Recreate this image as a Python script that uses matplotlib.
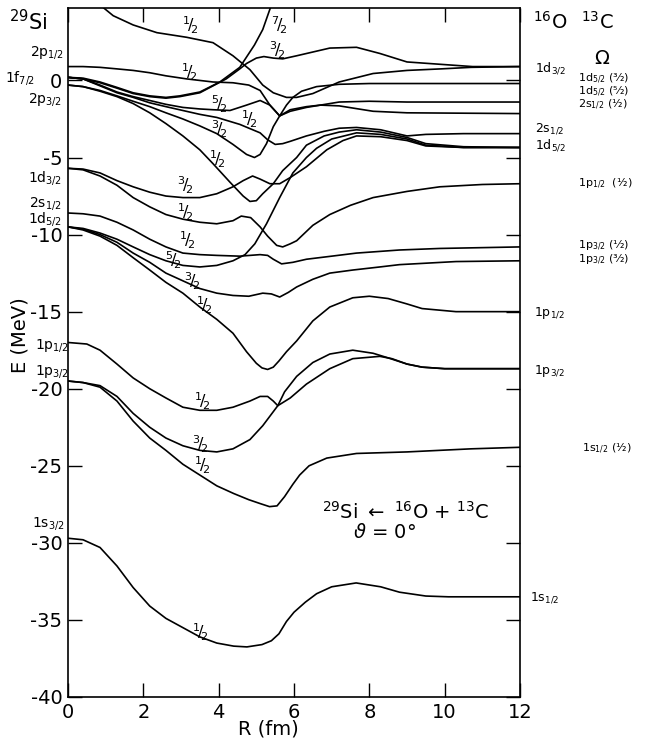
import matplotlib
matplotlib.use("Agg")
import matplotlib.pyplot as plt

plt.rcParams['font.family'] = ['DejaVu Sans']
plt.rcParams['mathtext.fontset'] = 'dejavusans'

# ---------------- data (R in fm, E in MeV) ----------------
# 1s -> 16O 1s1/2
r_1s = [0, 0.4, 0.85, 1.3, 1.73, 2.17, 2.6, 3.05, 3.5, 3.95, 4.4, 4.75, 5.15, 5.4, 5.6, 5.8, 6.0, 6.3, 6.6, 7.0, 7.65, 8.3, 8.8, 9.5, 10.1, 11, 12]
e_1s = [-29.7, -29.8, -30.3, -31.5, -32.9, -34.1, -34.9, -35.5, -36.1, -36.5, -36.7, -36.75, -36.6, -36.35, -35.9, -35.1, -34.5, -33.85, -33.3, -32.85, -32.6, -32.85, -33.2, -33.45, -33.5, -33.5, -33.5]

# 1p3/2 (1/2) -> 13C 1s1/2
r_p32a = [0, 0.4, 0.85, 1.3, 1.73, 2.17, 2.6, 3.05, 3.5, 3.95, 4.4, 4.8, 5.1, 5.35, 5.55, 5.75, 5.97, 6.15, 6.4, 6.87, 7.66, 9.0, 10.7, 12]
e_p32a = [-19.5, -19.6, -19.9, -20.8, -22.1, -23.2, -24.0, -24.9, -25.6, -26.3, -26.8, -27.2, -27.45, -27.65, -27.6, -27.0, -26.2, -25.6, -25.0, -24.5, -24.2, -24.1, -23.9, -23.8]

# 1p3/2 (3/2) -> 16O 1p3/2
r_p32b = [0, 0.4, 0.85, 1.3, 1.73, 2.17, 2.6, 3.05, 3.5, 3.95, 4.38, 4.83, 5.17, 5.57, 5.75, 6.07, 6.5, 6.95, 7.56, 8.1, 8.5, 9.0, 9.4, 10.0, 10.7, 12]
e_p32b = [-19.5, -19.6, -19.8, -20.5, -21.6, -22.5, -23.2, -23.7, -24.0, -24.1, -23.9, -23.3, -22.4, -21.1, -20.2, -19.2, -18.3, -17.75, -17.5, -17.7, -18.0, -18.4, -18.6, -18.7, -18.7, -18.7]

# 1p1/2 (1/2) -> 16O 1p3/2
r_p12 = [0, 0.5, 0.85, 1.3, 1.73, 2.17, 2.6, 3.05, 3.5, 3.95, 4.38, 4.83, 5.1, 5.3, 5.45, 5.57, 5.9, 6.33, 6.95, 7.56, 8.28, 8.6, 9.0, 9.4, 10.0, 10.7, 12]
e_p12 = [-17.0, -17.1, -17.5, -18.4, -19.3, -20.0, -20.6, -21.2, -21.4, -21.4, -21.2, -20.8, -20.5, -20.5, -20.8, -21.1, -20.6, -19.7, -18.7, -18.05, -17.9, -18.05, -18.4, -18.6, -18.7, -18.7, -18.7]

# 1d5/2 (1/2) -> 16O 1p1/2
r_d52a = [0, 0.4, 0.85, 1.3, 1.73, 2.17, 2.6, 3.05, 3.5, 3.95, 4.38, 4.74, 5.0, 5.15, 5.3, 5.45, 5.6, 5.8, 6.07, 6.5, 6.95, 7.56, 8.0, 8.5, 9.0, 9.4, 10.3, 12]
e_d52a = [-9.5, -9.7, -10.1, -10.7, -11.5, -12.3, -13.1, -13.8, -14.7, -15.5, -16.4, -17.6, -18.35, -18.65, -18.75, -18.6, -18.2, -17.6, -16.9, -15.6, -14.7, -14.1, -14.0, -14.15, -14.5, -14.8, -15.0, -15.0]

# 1d5/2 (3/2) -> 13C 1p3/2 (3/2)
r_d52b = [0, 0.4, 0.85, 1.3, 1.73, 2.17, 2.6, 3.05, 3.5, 3.95, 4.38, 4.8, 5.17, 5.4, 5.62, 5.85, 6.07, 6.5, 6.95, 7.56, 8.28, 8.8, 10.3, 12]
e_d52b = [-9.5, -9.65, -10.0, -10.5, -11.2, -11.8, -12.5, -13.0, -13.5, -13.8, -13.95, -14.0, -13.8, -13.85, -14.05, -13.75, -13.4, -12.9, -12.5, -12.3, -12.1, -11.95, -11.75, -11.7]

# 1d5/2 (5/2) -> 16O 1d5/2
r_d52c = [0, 0.4, 0.85, 1.3, 1.73, 2.17, 2.6, 3.05, 3.5, 3.95, 4.38, 4.7, 4.96, 5.27, 5.62, 5.97, 6.33, 6.6, 7.0, 7.66, 8.3, 9.0, 9.5, 10.5, 12]
e_d52c = [-9.5, -9.6, -9.9, -10.3, -10.8, -11.3, -11.7, -12.0, -12.1, -12.0, -11.7, -11.3, -10.6, -9.3, -7.6, -6.0, -5.0, -4.4, -3.8, -3.4, -3.5, -3.8, -4.2, -4.35, -4.35]

# 2s1/2 (1/2) -> 13C 1p3/2 (1/2)
r_s12 = [0, 0.4, 0.85, 1.3, 1.73, 2.17, 2.6, 3.05, 3.5, 3.95, 4.56, 5.1, 5.3, 5.45, 5.67, 5.97, 6.33, 7.0, 7.66, 8.8, 9.87, 12]
e_s12 = [-8.6, -8.65, -8.8, -9.2, -9.7, -10.3, -10.8, -11.2, -11.3, -11.35, -11.4, -11.3, -11.35, -11.6, -11.9, -11.8, -11.6, -11.4, -11.2, -11.0, -10.9, -10.8]

# 1d3/2 (3/2) -> 16O 1d5/2
r_d32b = [0, 0.4, 0.85, 1.3, 1.73, 2.17, 2.6, 3.05, 3.5, 3.95, 4.38, 4.65, 4.9, 5.1, 5.36, 5.62, 5.9, 6.33, 6.87, 7.3, 7.66, 8.3, 9.0, 9.5, 10.5, 12]
e_d32b = [-5.7, -5.75, -6.0, -6.5, -6.9, -7.25, -7.5, -7.6, -7.6, -7.35, -6.9, -6.5, -6.2, -6.4, -6.7, -6.7, -6.3, -5.6, -4.5, -3.9, -3.6, -3.65, -3.9, -4.25, -4.35, -4.35]

# 1d3/2 (1/2) -> 13C 1p1/2
r_d32a = [0, 0.4, 0.85, 1.3, 1.73, 2.17, 2.6, 3.05, 3.5, 3.95, 4.38, 4.6, 4.85, 5.1, 5.3, 5.54, 5.7, 5.9, 6.07, 6.5, 6.95, 7.5, 8.1, 9.0, 9.87, 11, 12]
e_d32a = [-5.7, -5.8, -6.2, -6.8, -7.6, -8.2, -8.7, -9.0, -9.2, -9.3, -9.1, -8.8, -8.9, -9.5, -10.1, -10.7, -10.8, -10.6, -10.4, -9.4, -8.7, -8.1, -7.6, -7.2, -6.9, -6.75, -6.7]

# 2p3/2 (1/2), steep -> 16O 1d5/2
r_p32s = [0, 0.4, 0.85, 1.3, 1.73, 2.17, 2.6, 3.05, 3.5, 3.85, 4.3, 4.65, 4.83, 5.0, 5.17, 5.45, 5.7, 6.07, 6.33, 6.8, 7.2, 7.66, 8.3, 9.0, 9.5, 10.5, 12]
e_p32s = [-0.3, -0.4, -0.7, -1.05, -1.5, -2.1, -2.8, -3.6, -4.5, -5.4, -6.6, -7.5, -7.85, -7.8, -7.35, -6.7, -5.85, -5.0, -4.2, -3.6, -3.35, -3.2, -3.35, -3.7, -4.1, -4.3, -4.35]

# 2p3/2 (3/2) -> 13C 1d5/2 (3/2)
r_p32d = [0, 0.4, 0.85, 1.3, 1.73, 2.17, 2.6, 3.05, 3.5, 3.95, 4.38, 4.74, 4.95, 5.1, 5.27, 5.45, 5.62, 5.8, 5.97, 6.2, 6.6, 7.2, 8, 9, 12]
e_p32d = [-0.3, -0.4, -0.65, -1.0, -1.35, -1.7, -2.1, -2.5, -2.95, -3.45, -4.15, -4.8, -5.0, -4.8, -4.1, -3.0, -2.3, -1.6, -1.1, -0.7, -0.4, -0.25, -0.2, -0.2, -0.2]

# 1f7/2 (1/2) -> 16O 2s1/2
r_f72a = [0, 0.4, 0.85, 1.3, 1.73, 2.17, 2.6, 3.05, 3.5, 3.95, 4.56, 5.1, 5.3, 5.5, 5.7, 5.9, 6.33, 6.8, 7.2, 7.66, 8.3, 9.0, 9.5, 10.5, 12]
e_f72a = [0.2, 0.1, -0.35, -0.8, -1.1, -1.45, -1.7, -1.95, -2.2, -2.4, -2.85, -3.4, -3.85, -4.15, -4.1, -3.95, -3.6, -3.3, -3.1, -3.05, -3.2, -3.6, -3.5, -3.45, -3.45]

# 1f7/2 (5/2) -> 13C 1d5/2 (5/2)
r_f72c = [0, 0.4, 0.85, 1.3, 1.73, 2.17, 2.6, 3.05, 3.5, 3.85, 4.3, 4.74, 5.1, 5.36, 5.62, 5.9, 6.33, 7.2, 8, 9, 12]
e_f72c = [0.2, 0.1, -0.3, -0.75, -1.05, -1.3, -1.55, -1.75, -1.85, -1.9, -1.95, -1.6, -1.3, -1.6, -2.3, -2.0, -1.75, -1.4, -1.35, -1.4, -1.4]

# 1f7/2 (3/2) -> 16O 1d3/2
r_f72b = [0, 0.4, 0.85, 1.3, 1.73, 2.17, 2.6, 2.97, 3.5, 3.85, 4.2, 4.56, 4.74, 5.0, 5.2, 5.45, 5.7, 6.07, 6.95, 7.66, 8.28, 9.0, 9.87, 10.74, 12]
e_f72b = [0.2, 0.1, -0.15, -0.5, -0.85, -1.05, -1.15, -1.05, -0.8, -0.35, 0.1, 0.75, 1.1, 1.45, 1.55, 1.45, 1.4, 1.6, 2.1, 2.15, 1.75, 1.2, 1.05, 0.9, 0.9]

# 1f7/2 (7/2) -> leaves the frame
r_f72d = [0, 0.4, 0.85, 1.3, 1.73, 2.17, 2.6, 2.97, 3.5, 4.03, 4.56, 4.95, 5.17, 5.4]
e_f72d = [0.2, 0.15, -0.1, -0.45, -0.8, -1.0, -1.1, -1.0, -0.75, -0.1, 0.85, 2.3, 3.3, 4.9]

# 2p1/2 (1/2) -> 13C 2s1/2
r_p12b = [0, 0.4, 0.85, 1.3, 1.73, 2.17, 2.6, 3.15, 3.85, 4.38, 4.8, 5.1, 5.36, 5.62, 5.9, 6.33, 6.7, 7.2, 8.1, 9.0, 12]
e_p12b = [0.9, 0.9, 0.85, 0.75, 0.65, 0.5, 0.3, 0.1, -0.1, -0.15, -0.3, -0.65, -1.6, -2.3, -1.9, -1.7, -1.6, -1.65, -2.0, -2.1, -2.15]

# level coming from above (1/2) -> 16O 1d3/2
r_top = [0.9, 1.2, 1.73, 2.36, 3.15, 3.85, 4.38, 4.83, 5.17, 5.45, 5.8, 6.07, 6.5, 7.2, 8.1, 9.0, 9.9, 10.7, 12]
e_top = [4.8, 4.2, 3.6, 3.1, 2.8, 2.45, 1.6, 0.7, -0.3, -0.8, -1.1, -1.1, -0.85, -0.1, 0.45, 0.65, 0.75, 0.85, 0.9]

curves = [
    (r_1s, e_1s), (r_p32a, e_p32a), (r_p32b, e_p32b), (r_p12, e_p12),
    (r_d52a, e_d52a), (r_d52b, e_d52b), (r_d52c, e_d52c), (r_s12, e_s12),
    (r_d32b, e_d32b), (r_d32a, e_d32a), (r_p32s, e_p32s), (r_p32d, e_p32d),
    (r_f72a, e_f72a), (r_f72c, e_f72c), (r_f72b, e_f72b), (r_f72d, e_f72d),
    (r_p12b, e_p12b), (r_top, e_top),
]

# Omega labels on curves
omega_R = [3.24, 5.6, 5.55, 3.2, 4.0, 4.8, 4.0, 3.95, 3.1, 3.1, 3.15, 2.8, 3.3, 3.6, 3.55, 3.5, 3.55, 3.5]
omega_E = [3.6, 3.6, 1.95, 0.5, -1.55, -2.55, -3.15, -5.1, -6.8, -8.55, -10.35, -11.7, -13.0, -14.6, -20.8, -23.6, -25.0, -35.8]
omega_T = ['1/2', '7/2', '3/2', '1/2', '5/2', '1/2', '3/2', '1/2', '3/2', '1/2', '1/2', '5/2', '3/2', '1/2', '1/2', '3/2', '1/2', '1/2']

yticks = [0, -5, -10, -15, -20, -25, -30, -35, -40]
ytick_labels = ['0', '-5', '-10', '-15', '-20', '-25', '-30', '-35', '-40']
xticks = [0, 2, 4, 6, 8, 10, 12]
xtick_labels = ['0', '2', '4', '6', '8', '10', '12']

# left (29Si) level labels: text, pixel x, pixel y
left_T = [r'2p$_{1/2}$', r'1f$_{7/2}$', r'2p$_{3/2}$', r'1d$_{3/2}$', r'2s$_{1/2}$', r'1d$_{5/2}$', r'1p$_{1/2}$', r'1p$_{3/2}$', r'1s$_{3/2}$']
left_px = [[47, 52], [20, 78], [45, 99], [45, 178], [45, 203], [45, 219], [52, 345], [52, 372], [48, 523]]

# right (16O) level labels
o16_T = [r'1d$_{3/2}$', r'2s$_{1/2}$', r'1d$_{5/2}$', r'1p$_{1/2}$', r'1p$_{3/2}$', r'1s$_{1/2}$']
o16_px = [[550, 68], [550, 129], [550, 145], [549, 313], [549, 371], [545, 598]]

# right (13C) level labels with Omega
c13_T = ['1d$_{5/2}$ (³⁄₂)', '1d$_{5/2}$ (⁵⁄₂)', '2s$_{1/2}$ (¹⁄₂)',
         '1p$_{1/2}$  (¹⁄₂)', '1p$_{3/2}$ (¹⁄₂)', '1p$_{3/2}$ (³⁄₂)',
         '1s$_{1/2}$ (¹⁄₂)']
c13_px = [[578, 79], [578, 92], [578, 105], [578, 184], [578, 246], [578, 260], [582, 449]]

# ---------------- figure ----------------
W, H = 645, 738
fig = plt.figure(figsize=(W / 100, H / 100), dpi=100)
ax = fig.add_axes([68 / W, 1 - 697 / H, (520 - 68) / W, (697 - 8) / H])

for r, e in curves:
    ax.plot(r, e, color='black', lw=1.2, solid_joinstyle='round', solid_capstyle='round')

ax.set_xlim(0, 12)
ax.set_ylim(-40, 4.7)
ax.set_yticks(yticks)
ax.set_yticklabels(ytick_labels, fontsize=14)
ax.set_xticks(xticks)
ax.set_xticklabels(xtick_labels, fontsize=14)
ax.tick_params(direction='in', length=10, width=1, top=True, right=True, pad=4)
for s in ax.spines.values():
    s.set_linewidth(1.2)

for R, E, t in zip(omega_R, omega_E, omega_T):
    a, b = t.split('/')
    ax.text(R, E, r'$^{%s}\!/\!_{%s}$' % (a, b), fontsize=11.5, ha='center', va='center')

def ftext(px, py, s, **kw):
    fig.text(px / W, 1 - py / H, s, **kw)

ftext(28, 22, r'$^{29}$Si', fontsize=15, ha='center', va='center')
for t, (px, py) in zip(left_T, left_px):
    ftext(px, py, t, fontsize=10, ha='center', va='center')
ftext(550, 22, r'$^{16}$O', fontsize=14, ha='center', va='center')
ftext(597, 22, r'$^{13}$C', fontsize=14, ha='center', va='center')
ftext(602, 58, r'$\Omega$', fontsize=14, ha='center', va='center')
for t, (px, py) in zip(o16_T, o16_px):
    ftext(px, py, t, fontsize=9, ha='center', va='center')
for t, (px, py) in zip(c13_T, c13_px):
    ftext(px, py, t, fontsize=8, ha='left', va='center')

ftext(268, 729, 'R (fm)', fontsize=14, ha='center', va='center')
ftext(20, 335, 'E (MeV)', fontsize=14, ha='center', va='center', rotation=90)

ftext(405, 512, r'$^{29}$Si $\leftarrow$ $^{16}$O + $^{13}$C', fontsize=14, ha='center', va='center')
ftext(385, 533, r'$\vartheta$ = 0°', fontsize=14, ha='center', va='center')

fig.savefig('out.png', dpi=100)
